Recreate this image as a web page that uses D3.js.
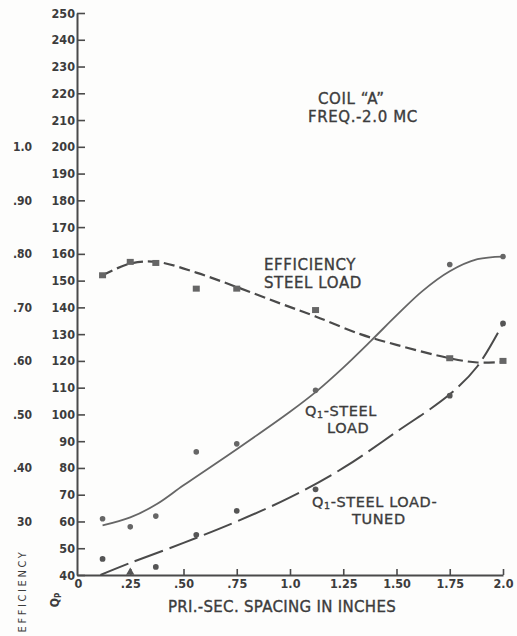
<!DOCTYPE html>
<html>
<head>
<meta charset="utf-8">
<script src="https://cdn.jsdelivr.net/npm/d3@7"></script>
<style>
  body { margin: 0; background: #fdfdfc; }
  svg text { font-family: "DejaVu Sans Condensed", "DejaVu Sans", sans-serif; fill: #3c3c3c; }
  svg text.lettering { font-family: "DejaVu Sans", sans-serif; stroke: #3c3c3c; stroke-width: 0.35px; }
</style>
</head>
<body>
<div id="chart"></div>
<script>
// measured points (spacing in inches)
const spacing = [0.12, 0.25, 0.37, 0.56, 0.75, 1.12, 1.75, 2.0];
const efficiency = [0.76, 0.785, 0.783, 0.735, 0.735, 0.695, 0.605, 0.60];
const qSteel = [61, 58, 62, 86, 89, 109, 156, 159];
const qTuned = [46, 41, 43, 55, 64, 72, 107, 134];

// faired curves drawn through the points
const effCurveX = [0.12, 0.25, 0.375, 0.56, 0.75, 0.95, 1.12, 1.33, 1.5, 1.75, 1.88, 2.0];
const effCurve = [0.76, 0.782, 0.785, 0.765, 0.738, 0.708, 0.683, 0.65, 0.63, 0.605, 0.597, 0.598];
const steelCurveX = [0.12, 0.25, 0.375, 0.5, 0.75, 1.0, 1.13, 1.25, 1.38, 1.5, 1.62, 1.75, 1.88, 2.0];
const steelCurve = [58.5, 61.5, 66.5, 73.5, 87, 101, 109, 117.5, 127.5, 137, 146, 153.5, 158, 159];
const tunedCurveX = [0.11, 0.25, 0.5, 0.75, 1.0, 1.25, 1.5, 1.75, 1.88, 2.0];
const tunedCurve = [40, 44.5, 52, 60, 69, 80, 93.5, 107.5, 118, 134];

const xTicks = [0, 0.25, 0.5, 0.75, 1.0, 1.25, 1.5, 1.75, 2.0];
const xTickLabels = ["0", ".25", ".50", ".75", "1.0", "1.25", "1.50", "1.75", "2.0"];
const qTicks = d3.range(40, 251, 10);
const effTicks = [0.3, 0.4, 0.5, 0.6, 0.7, 0.8, 0.9, 1.0];
const effTickLabels = ["30", ".40", ".50", ".60", ".70", ".80", ".90", "1.0"];

const width = 517, height = 636;
const margin = { top: 13, right: 14, bottom: 61, left: 77 };

const svg = d3.select('#chart')
  .append('svg')
  .attr('width', width)
  .attr('height', height);

const x = d3.scaleLinear().domain([0, 2]).range([margin.left, width - margin.right]);
const y = d3.scaleLinear().domain([40, 250]).range([height - margin.bottom, margin.top]);
const ink = '#4a4a4a';

// Q axis, ticks point inward
const yAxis = svg.append('g')
  .attr('transform', `translate(${margin.left},0)`)
  .call(d3.axisLeft(y).tickValues(qTicks).tickSizeInner(-8).tickSizeOuter(0).tickPadding(2));
yAxis.selectAll('text').style('font-size', '12.5px').style('font-weight', 'bold').attr('fill', '#3c3c3c');

const xAxis = svg.append('g')
  .attr('transform', `translate(0,${height - margin.bottom})`)
  .call(d3.axisBottom(x).tickValues(xTicks).tickFormat((d, i) => xTickLabels[i])
    .tickSizeInner(-6).tickSizeOuter(0).tickPadding(4));
xAxis.selectAll('text').style('font-size', '12.5px').style('font-weight', 'bold').attr('fill', '#3c3c3c');
xAxis.selectAll('.tick').filter(d => d === 0).select('line').remove();
xAxis.selectAll('.tick').filter(d => d === 0).select('text').attr('dx', '1px');

[yAxis, xAxis].forEach(a => {
  a.select('.domain').attr('stroke', ink).attr('stroke-width', 2);
  a.selectAll('.tick line').attr('stroke', ink).attr('stroke-width', 1.6);
});

// efficiency scale on the far left
svg.append('g').selectAll('text')
  .data(effTicks)
  .join('text')
  .attr('x', 32)
  .attr('y', d => y(d * 200))
  .attr('dy', '0.35em')
  .attr('text-anchor', 'end')
  .style('font-size', '12px')
  .style('font-weight', 'bold')
  .text((d, i) => effTickLabels[i]);

svg.append('text')
  .attr('transform', 'translate(26,591) rotate(-90)')
  .attr('text-anchor', 'middle')
  .style('font-size', '11px')
  .style('letter-spacing', '2.6px')
  .text('EFFICIENCY');

const qp = svg.append('text')
  .attr('transform', 'translate(59,600) rotate(-90)')
  .attr('text-anchor', 'middle')
  .style('font-size', '12px')
  .style('font-weight', 'bold');
qp.append('tspan').text('Q');
qp.append('tspan').attr('dy', '2').style('font-size', '8px').text('P');

svg.append('text')
  .attr('class', 'lettering')
  .attr('x', 282)
  .attr('y', 612)
  .attr('text-anchor', 'middle')
  .style('font-size', '15px')
  .style('letter-spacing', '0.3px')
  .text('PRI.-SEC. SPACING IN INCHES');

// curves
const line = d3.line().curve(d3.curveCatmullRom.alpha(0.5)).x(d => x(d[0])).y(d => y(d[1]));

svg.append('path')
  .attr('d', line(effCurveX.map((s, i) => [s, effCurve[i] * 200])))
  .attr('fill', 'none').attr('stroke', '#4a4a4a').attr('stroke-width', 2.2)
  .attr('stroke-dasharray', '11,5');

svg.append('path')
  .attr('d', line(steelCurveX.map((s, i) => [s, steelCurve[i]])))
  .attr('fill', 'none').attr('stroke', '#666').attr('stroke-width', 1.8);

svg.append('path')
  .attr('d', line(tunedCurveX.map((s, i) => [s, tunedCurve[i]])))
  .attr('fill', 'none').attr('stroke', '#4a4a4a').attr('stroke-width', 2)
  .attr('stroke-dasharray', '30,7');

// markers
svg.append('g').selectAll('rect')
  .data(spacing)
  .join('rect')
  .attr('x', (d, i) => x(d) - 3.5)
  .attr('y', (d, i) => y(efficiency[i] * 200) - 3)
  .attr('width', 7)
  .attr('height', 6)
  .attr('fill', '#666');

svg.append('g').selectAll('circle')
  .data(spacing)
  .join('circle')
  .attr('cx', d => x(d))
  .attr('cy', (d, i) => y(qSteel[i]))
  .attr('r', 2.8)
  .attr('fill', '#666');

svg.append('g').selectAll('path')
  .data(spacing)
  .join('path')
  .attr('transform', (d, i) => `translate(${x(d)},${y(qTuned[i])})`)
  .attr('d', (d, i) => d3.symbol().type(i === 1 ? d3.symbolTriangle : d3.symbolCircle).size(i === 1 ? 30 : 26)())
  .attr('fill', '#555');

// annotations: each line is a list of plain strings or {sub} / {up} pieces
const note = (lines, xPos, yPos, size, gap) => {
  lines.forEach((t, i) => {
    const el = svg.append('text')
      .attr('class', 'lettering')
      .attr('x', xPos[i])
      .attr('y', yPos + i * gap)
      .style('font-size', size + 'px')
      .style('letter-spacing', '0.6px');
    t.forEach(part => {
      if (typeof part === 'string') el.append('tspan').text(part);
      else if (part.sub) el.append('tspan').attr('dy', '2').style('font-size', (size - 5) + 'px').text(part.sub);
      else el.append('tspan').attr('dy', '-2').text(part.up);
    });
  });
};

note([["COIL \u201CA\u201D"], ["FREQ.-2.0 MC"]], [318, 308], 104, 15, 18);
note([["EFFICIENCY"], ["STEEL LOAD"]], [264, 264], 270, 15, 18);
note([["Q", { sub: "1" }, { up: "-STEEL" }], ["LOAD"]], [305, 327], 416, 14.5, 17);
note([["Q", { sub: "1" }, { up: "-STEEL LOAD-" }], ["TUNED"]], [312, 352], 507, 14.5, 17);
</script>
</body>
</html>
